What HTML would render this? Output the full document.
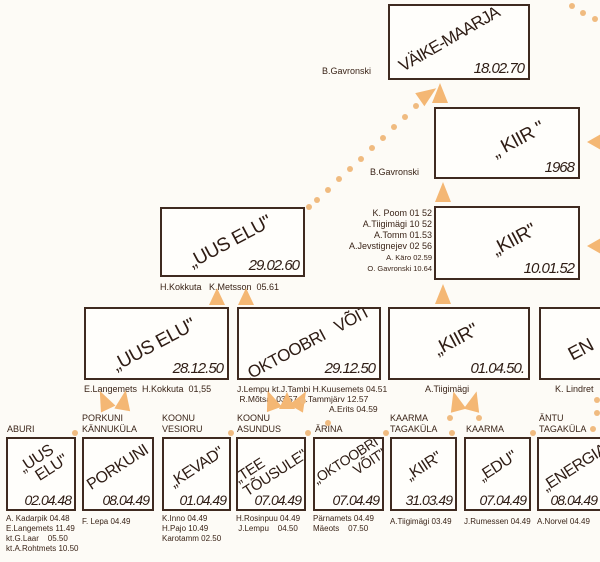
<!DOCTYPE html>
<html><head><meta charset="utf-8">
<style>
html,body{margin:0;padding:0}
body{width:600px;height:562px;position:relative;overflow:hidden;background:#fdfbf6;font-family:"Liberation Sans",sans-serif;color:#3a2418}
.b{position:absolute;border:2.5px solid #3f2a20;box-sizing:border-box;background:#fffefb;overflow:hidden}
.t{position:absolute;left:50%;top:48%;white-space:nowrap;transform:translate(-50%,-50%) rotate(-28deg);font-size:19px;letter-spacing:-0.5px;color:#2e1c14;line-height:19px;text-align:center}
.d{position:absolute;right:4px;bottom:1px;font-style:italic;font-size:15px;letter-spacing:-1px;color:#2e1c14}
.s .t{font-size:16px;line-height:16px;transform:translate(-50%,-50%) rotate(-33deg)}
.s .d{font-size:14px;right:3px}
.l{position:absolute;font-size:9px;white-space:nowrap;line-height:11px;color:#3a2418}
.tri{position:absolute;width:0;height:0;border-left:8px solid transparent;border-right:8px solid transparent;border-bottom:20px solid #f4b774}
.dot{position:absolute;width:6px;height:6px;border-radius:50%;background:#f0bb80}
</style></head><body>

<!-- top -->
<div class="b" style="left:388px;top:4px;width:142px;height:76px"><div class="t" style="left:43%;top:46%;font-size:17px;letter-spacing:-1px;transform:translate(-50%,-50%) rotate(-30deg)">VÄIKE-MAARJA</div><div class="d">18.02.70</div></div>
<div class="l" style="left:322px;top:66px">B.Gavronski</div>

<div class="b" style="left:434px;top:107px;width:146px;height:72px"><div class="t" style="left:58%;top:45%">„ KIIR "</div><div class="d">1968</div></div>
<div class="l" style="left:370px;top:167px">B.Gavronski</div>

<div class="b" style="left:434px;top:206px;width:146px;height:74px"><div class="t" style="left:55%;top:45%">„KIIR"</div><div class="d">10.01.52</div></div>
<div class="l" style="left:320px;top:208px;width:112px;text-align:right">K. Poom 01 52<br>A.Tiigimägi 10 52<br>A.Tomm 01.53<br>A.Jevstignejev 02 56<br><span style="font-size:7.5px">A. Käro 02.59</span><br><span style="font-size:7.5px">O. Gavronski 10.64</span></div>

<div class="b" style="left:160px;top:207px;width:145px;height:70px"><div class="t" style="left:48%;top:50%">„UUS ELU"</div><div class="d">29.02.60</div></div>
<div class="l" style="left:160px;top:282px">H.Kokkuta &nbsp;&nbsp;K.Metsson &nbsp;05.61</div>

<!-- row 2 -->
<div class="b" style="left:84px;top:307px;width:145px;height:73px"><div class="t" style="left:48%;top:52%">„UUS ELU"</div><div class="d">28.12.50</div></div>
<div class="l" style="left:84px;top:384px">E.Langemets &nbsp;H.Kokkuta &nbsp;01,55</div>

<div class="b" style="left:237px;top:307px;width:144px;height:73px"><div class="t" style="left:50%;top:48%;font-size:17px">„OKTOOBRI &nbsp;&nbsp;VÕIT"</div><div class="d">29.12.50</div></div>
<div class="l" style="left:237px;top:384px;font-size:8.5px;line-height:10px">J.Lempu kt.J.Tambi H.Kuusemets 04.51<br>&nbsp;R.Mõtsar 03.57 E.Tammjärv 12.57<br><span style="padding-left:92px">A.Erits 04.59</span></div>

<div class="b" style="left:388px;top:307px;width:142px;height:73px"><div class="t" style="left:48%;top:45%">„KIIR"</div><div class="d">01.04.50.</div></div>
<div class="l" style="left:425px;top:384px">A.Tiigimägi</div>

<div class="b" style="left:539px;top:307px;width:70px;height:73px"><div class="t" style="left:60%;top:60%">EN</div></div>
<div class="l" style="left:555px;top:384px">K. Lindret</div>

<!-- row 3 -->
<div class="l" style="left:7px;top:424px">ABURI</div>
<div class="b s" style="left:6px;top:437px;width:70px;height:74px"><div class="t" style="top:38%">„UUS<br>&nbsp;&nbsp;&nbsp;&nbsp;ELU"</div><div class="d">02.04.48</div></div>
<div class="l" style="left:6px;top:514px;font-size:8px;line-height:10px">A. Kadarpik 04.48<br>E.Langemets 11.49<br>kt.G.Laar &nbsp;&nbsp;&nbsp;05.50<br>kt.A.Rohtmets 10.50</div>

<div class="l" style="left:82px;top:413px">PORKUNI<br>KÄNNUKÜLA</div>
<div class="b s" style="left:82px;top:437px;width:72px;height:74px"><div class="t" style="top:42%">PORKUNI</div><div class="d">08.04.49</div></div>
<div class="l" style="left:82px;top:516px;font-size:8px">F. Lepa 04.49</div>

<div class="l" style="left:162px;top:413px">KOONU<br>VESIORU</div>
<div class="b s" style="left:162px;top:437px;width:69px;height:74px"><div class="t" style="top:42%">„KEVAD"</div><div class="d">01.04.49</div></div>
<div class="l" style="left:162px;top:514px;font-size:8px;line-height:10px">K.Inno 04.49<br>H.Pajo 10.49<br>Karotamm 02.50</div>

<div class="l" style="left:237px;top:413px">KOONU<br>ASUNDUS</div>
<div class="b s" style="left:236px;top:437px;width:70px;height:74px"><div class="t" style="top:40%;text-align:left;font-size:15px">„TEE<br>TÕUSULE"</div><div class="d">07.04.49</div></div>
<div class="l" style="left:236px;top:514px;font-size:8px;line-height:10px">H.Rosinpuu 04.49<br>&nbsp;J.Lempu &nbsp;&nbsp;&nbsp;04.50</div>

<div class="l" style="left:315px;top:424px">ÄRINA</div>
<div class="b s" style="left:313px;top:437px;width:71px;height:74px"><div class="t" style="top:38%;font-size:14px;line-height:14px;text-align:right">„OKTOOBRI<br>VÕIT"</div><div class="d">07.04.49</div></div>
<div class="l" style="left:313px;top:514px;font-size:8px;line-height:10px">Pärnamets 04.49<br>Mäeots &nbsp;&nbsp;&nbsp;07.50</div>

<div class="l" style="left:390px;top:413px">KAARMA<br>TAGAKÜLA</div>
<div class="b s" style="left:390px;top:437px;width:67px;height:74px"><div class="t" style="top:40%">„KIIR"</div><div class="d">31.03.49</div></div>
<div class="l" style="left:390px;top:516px;font-size:8px">A.Tiigimägi 03.49</div>

<div class="l" style="left:466px;top:424px">KAARMA</div>
<div class="b s" style="left:464px;top:437px;width:67px;height:74px"><div class="t" style="top:40%">„EDU"</div><div class="d">07.04.49</div></div>
<div class="l" style="left:464px;top:516px;font-size:8px">J.Rumessen 04.49</div>

<div class="l" style="left:539px;top:413px">ÄNTU<br>TAGAKÜLA</div>
<div class="b s" style="left:537px;top:437px;width:70px;height:74px"><div class="t" style="top:40%;left:58%">„ENERGIA"</div><div class="d" style="right:8px">08.04.49</div></div>
<div class="l" style="left:537px;top:516px;font-size:8px">A.Norvel 04.49</div>

<!-- arrows -->
<div class="tri" style="left:432px;top:83px"></div>
<div class="tri" style="left:420px;top:84px;transform:rotate(55deg)"></div>
<div class="tri" style="left:435px;top:182px"></div>
<div class="tri" style="left:435px;top:284px"></div>
<div class="tri" style="left:209px;top:288px;border-bottom-width:17px"></div>
<div class="tri" style="left:238px;top:288px;border-bottom-width:17px"></div>
<div class="tri" style="left:96px;top:390px;transform:rotate(-25deg)"></div>
<div class="tri" style="left:116px;top:390px;transform:rotate(10deg)"></div>
<div class="tri" style="left:263px;top:390px;transform:rotate(-20deg)"></div>
<div class="tri" style="left:279px;top:392px;border-bottom-width:17px"></div>
<div class="tri" style="left:293px;top:390px;transform:rotate(30deg)"></div>
<div class="tri" style="left:448px;top:391px;transform:rotate(-15deg)"></div>
<div class="tri" style="left:466px;top:391px;transform:rotate(15deg)"></div>
<div class="tri" style="left:586px;top:135px;transform:rotate(-90deg);border-bottom-width:14px"></div>
<div class="tri" style="left:586px;top:239px;transform:rotate(-90deg);border-bottom-width:14px"></div>

<!-- dots -->
<div class="dot" style="left:413px;top:103px"></div>
<div class="dot" style="left:402px;top:114px"></div>
<div class="dot" style="left:391px;top:124px"></div>
<div class="dot" style="left:380px;top:135px"></div>
<div class="dot" style="left:369px;top:145px"></div>
<div class="dot" style="left:358px;top:156px"></div>
<div class="dot" style="left:347px;top:166px"></div>
<div class="dot" style="left:336px;top:176px"></div>
<div class="dot" style="left:325px;top:187px"></div>
<div class="dot" style="left:314px;top:197px"></div>
<div class="dot" style="left:306px;top:204px"></div>
<div class="dot" style="left:569px;top:3px"></div>
<div class="dot" style="left:580px;top:10px"></div>
<div class="dot" style="left:592px;top:16px"></div>
<div class="dot" style="left:594px;top:397px"></div>
<div class="dot" style="left:594px;top:410px"></div>
<div class="dot" style="left:590px;top:426px"></div>
<div class="dot" style="left:72px;top:430px"></div>
<div class="dot" style="left:228px;top:430px"></div>
<div class="dot" style="left:305px;top:430px"></div>
<div class="dot" style="left:383px;top:430px"></div>
<div class="dot" style="left:449px;top:430px"></div>
<div class="dot" style="left:447px;top:415px"></div>
<div class="dot" style="left:476px;top:415px"></div>
<div class="dot" style="left:325px;top:420px"></div>
<div class="dot" style="left:300px;top:398px"></div>
<div class="dot" style="left:530px;top:430px"></div>
</body></html>
